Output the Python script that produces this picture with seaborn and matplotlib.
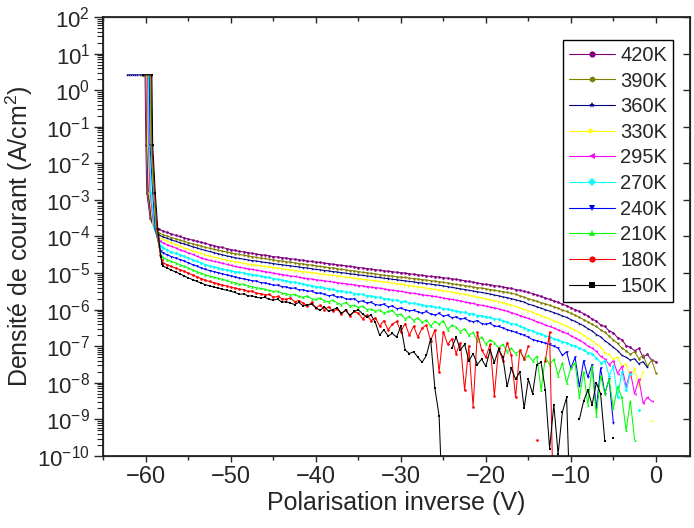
import numpy as np
import pandas as pd
import matplotlib
matplotlib.use("Agg")
import matplotlib.pyplot as plt
import seaborn as sns
from matplotlib.lines import Line2D
from matplotlib.ticker import (LogLocator, LogFormatterMathtext, MultipleLocator,
                               NullFormatter, NullLocator)

nan = np.nan

temps = ["420K", "390K", "360K", "330K", "295K", "270K", "240K", "210K", "180K", "150K"]
colors = ["#800080", "#808000", "#000080", "#FFFF00", "#FF00FF",
          "#00FFFF", "#0000FF", "#00FF00", "#FF0000", "#000000"]
marker_list = ["o", "h", "*", ">", "<", "D", "v", "^", "o", "s"]

# voltage sweep after the breakdown knee (-58 V .. 0 V, 0.5 V step)
sweep_v = np.arange(-58.0, 0.25, 0.5)

# breakdown / compliance part of each sweep (V, log10 J)
pre_v = {
    "420K": [-60.3, -60.1, -60.0, -59.9, -59.5, -59.0, -58.5],
    "390K": [-60.3, -60.0, -59.9, -59.8, -59.4, -58.9, -58.5],
    "360K": [-62.2, -62.0, -61.75, -61.5, -61.25, -61.0, -60.75, -60.5, -60.25,
             -59.95, -59.85, -59.7, -59.3, -58.8, -58.5],
    "330K": [-60.3, -59.9, -59.8, -59.6, -59.2, -58.7, -58.4],
    "295K": [-60.3, -59.8, -59.7, -59.5, -59.1, -58.6, -58.3],
    "270K": [-60.3, -59.7, -59.6, -59.4, -59.0, -58.5, -58.25],
    "240K": [-60.3, -59.6, -59.5, -59.2, -58.9, -58.4, -58.2],
    "210K": [-60.3, -59.5, -59.4, -59.1, -58.8, -58.35, -58.15],
    "180K": [-60.3, -59.4, -59.3, -59.0, -58.7, -58.3, -58.15],
    "150K": [-60.3, -59.3, -59.2, -58.9, -58.6, -58.25, -58.1],
}
pre_logj = {
    "420K": [0.42, 0.42, -1.5, -2.8, -3.5, -3.72, -3.80],
    "390K": [0.42, 0.42, -1.5, -2.8, -3.55, -3.82, -3.90],
    "360K": [0.42, 0.42, 0.42, 0.42, 0.42, 0.42, 0.42, 0.42, 0.42,
             0.42, -1.5, -2.8, -3.6, -3.9, -3.96],
    "330K": [0.42, 0.42, -1.5, -2.8, -3.65, -3.97, -4.04],
    "295K": [0.42, 0.42, -1.5, -2.8, -3.7, -4.05, -4.12],
    "270K": [0.42, 0.42, -1.5, -2.8, -3.75, -4.15, -4.25],
    "240K": [0.42, 0.42, -1.5, -2.8, -3.8, -4.3, -4.4],
    "210K": [0.42, 0.42, -1.5, -2.8, -3.8, -4.4, -4.52],
    "180K": [0.42, 0.42, -1.5, -2.8, -3.8, -4.5, -4.65],
    "150K": [0.42, 0.42, -1.5, -2.8, -3.8, -4.55, -4.75],
}

# log10 of current density on the sweep grid (nan = not plottable)
logj_420 = [-3.85, -3.89, -3.93, -3.97, -4.00, -4.04, -4.07, -4.10, -4.13,
            -4.16, -4.19, -4.22, -4.25, -4.28, -4.30, -4.33, -4.36, -4.38, -4.41,
            -4.42, -4.44, -4.46, -4.48, -4.50, -4.51, -4.53, -4.55, -4.56, -4.58,
            -4.59, -4.61, -4.62, -4.64, -4.65, -4.67, -4.68, -4.70, -4.71, -4.73,
            -4.74, -4.76, -4.77, -4.79, -4.80, -4.82, -4.83, -4.85, -4.86, -4.88,
            -4.89, -4.91, -4.92, -4.94, -4.95, -4.96, -4.98, -4.99, -5.00, -5.02,
            -5.03, -5.05, -5.06, -5.08, -5.09, -5.10, -5.11, -5.13, -5.14, -5.16,
            -5.17, -5.19, -5.21, -5.23, -5.25, -5.27, -5.29, -5.31, -5.32, -5.34,
            -5.36, -5.38, -5.40, -5.42, -5.45, -5.47, -5.50, -5.53, -5.56, -5.60,
            -5.64, -5.68, -5.72, -5.76, -5.80, -5.85, -5.89, -5.95, -6.00, -6.05,
            -6.11, -6.17, -6.26, -6.31, -6.42, -6.46, -6.58, -6.63, -6.77, -6.82,
            -6.98, -7.03, -7.12, -7.06, -7.30, -7.22, -7.38, -7.42]
logj_390 = [-3.95, -3.99, -4.03, -4.06, -4.10, -4.13, -4.17, -4.20, -4.23,
            -4.26, -4.30, -4.32, -4.35, -4.37, -4.40, -4.42, -4.45, -4.47, -4.49,
            -4.51, -4.53, -4.55, -4.57, -4.59, -4.60, -4.62, -4.64, -4.66, -4.67,
            -4.69, -4.70, -4.72, -4.74, -4.75, -4.77, -4.78, -4.80, -4.82, -4.83,
            -4.85, -4.86, -4.88, -4.90, -4.91, -4.93, -4.94, -4.96, -4.98, -4.99,
            -5.01, -5.02, -5.04, -5.06, -5.07, -5.08, -5.10, -5.11, -5.12, -5.14,
            -5.15, -5.16, -5.18, -5.19, -5.21, -5.22, -5.24, -5.25, -5.27, -5.29,
            -5.31, -5.32, -5.34, -5.36, -5.38, -5.40, -5.41, -5.43, -5.45, -5.47,
            -5.49, -5.51, -5.53, -5.55, -5.58, -5.62, -5.66, -5.70, -5.74, -5.77,
            -5.81, -5.84, -5.88, -5.92, -5.96, -6.01, -6.05, -6.10, -6.15, -6.21,
            -6.27, -6.33, -6.40, -6.46, -6.55, -6.62, -6.72, -6.83, -6.92, -7.05,
            -7.12, -7.22, -7.15, -7.34, -7.25, -7.55, -7.38, -7.72]
logj_360 = [-4.01, -4.05, -4.09, -4.13, -4.17, -4.20, -4.24, -4.28, -4.31,
            -4.35, -4.38, -4.41, -4.44, -4.47, -4.50, -4.53, -4.55, -4.58, -4.60,
            -4.62, -4.64, -4.66, -4.67, -4.69, -4.71, -4.72, -4.74, -4.76, -4.77,
            -4.79, -4.80, -4.82, -4.83, -4.85, -4.86, -4.88, -4.90, -4.91, -4.93,
            -4.94, -4.96, -4.97, -4.99, -5.00, -5.02, -5.03, -5.05, -5.06, -5.08,
            -5.09, -5.11, -5.12, -5.14, -5.15, -5.17, -5.18, -5.20, -5.21, -5.23,
            -5.24, -5.26, -5.27, -5.29, -5.30, -5.32, -5.33, -5.35, -5.37, -5.39,
            -5.41, -5.43, -5.45, -5.47, -5.49, -5.51, -5.53, -5.55, -5.57, -5.60,
            -5.62, -5.65, -5.67, -5.70, -5.73, -5.76, -5.79, -5.85, -5.88, -5.92,
            -5.96, -6.00, -6.04, -6.08, -6.12, -6.17, -6.21, -6.27, -6.32, -6.38,
            -6.44, -6.52, -6.58, -6.68, -6.74, -6.85, -6.93, -7.03, -7.12, -7.25,
            -7.30, -7.38, -7.34, -7.48, -7.42, -7.58, nan, nan]
logj_330 = [-4.08, -4.12, -4.17, -4.22, -4.26, -4.31, -4.35, -4.39, -4.43,
            -4.46, -4.50, -4.53, -4.56, -4.59, -4.62, -4.64, -4.67, -4.69, -4.71,
            -4.73, -4.75, -4.77, -4.78, -4.80, -4.82, -4.83, -4.85, -4.86, -4.88,
            -4.90, -4.91, -4.93, -4.94, -4.96, -4.97, -4.99, -5.00, -5.02, -5.03,
            -5.05, -5.06, -5.08, -5.09, -5.11, -5.12, -5.14, -5.15, -5.17, -5.18,
            -5.20, -5.21, -5.23, -5.24, -5.25, -5.27, -5.29, -5.30, -5.32, -5.34,
            -5.36, -5.38, -5.39, -5.41, -5.43, -5.44, -5.46, -5.48, -5.50, -5.52,
            -5.54, -5.56, -5.58, -5.61, -5.63, -5.65, -5.68, -5.70, -5.73, -5.75,
            -5.78, -5.81, -5.84, -5.87, -5.91, -5.95, -5.99, -6.03, -6.07, -6.12,
            -6.16, -6.21, -6.26, -6.30, -6.35, -6.40, -6.45, -6.51, -6.56, -6.62,
            -6.70, -6.78, -6.85, -6.94, -7.02, -7.18, -7.22, -7.35, -7.30, -7.55,
            -7.48, -7.85, -7.60, -8.10, -7.70, nan, -9.05, nan]
logj_295 = [-4.17, -4.22, -4.27, -4.31, -4.36, -4.40, -4.45, -4.49, -4.54,
            -4.58, -4.62, -4.65, -4.68, -4.70, -4.73, -4.76, -4.79, -4.82, -4.84,
            -4.86, -4.88, -4.90, -4.92, -4.94, -4.96, -4.98, -5.00, -5.02, -5.04,
            -5.06, -5.08, -5.09, -5.11, -5.13, -5.15, -5.16, -5.18, -5.20, -5.21,
            -5.23, -5.24, -5.26, -5.28, -5.29, -5.31, -5.32, -5.34, -5.35, -5.37,
            -5.38, -5.40, -5.41, -5.43, -5.45, -5.47, -5.48, -5.50, -5.52, -5.54,
            -5.55, -5.57, -5.59, -5.61, -5.62, -5.64, -5.66, -5.68, -5.70, -5.72,
            -5.74, -5.76, -5.79, -5.81, -5.83, -5.86, -5.88, -5.90, -5.93, -5.95,
            -5.98, -6.01, -6.04, -6.08, -6.12, -6.16, -6.20, -6.24, -6.28, -6.33,
            -6.37, -6.42, -6.46, -6.50, -6.55, -6.60, -6.65, -6.71, -6.77, -6.83,
            -6.90, -7.00, -7.05, -7.14, -7.28, -7.35, -7.50, -7.40, -7.75, -7.55,
            -8.10, -7.70, -8.30, -7.90, -8.55, -8.40, -8.50, nan]
logj_270 = [-4.31, -4.37, -4.42, -4.46, -4.50, -4.54, -4.59, -4.64, -4.68,
            -4.72, -4.77, -4.80, -4.83, -4.86, -4.89, -4.91, -4.93, -4.96, -4.98,
            -5.00, -5.02, -5.04, -5.06, -5.08, -5.10, -5.12, -5.15, -5.17, -5.19,
            -5.21, -5.24, -5.25, -5.28, -5.30, -5.32, -5.34, -5.37, -5.38, -5.41,
            -5.43, -5.44, -5.48, -5.48, -5.52, -5.52, -5.56, -5.57, -5.58, -5.62,
            -5.62, -5.66, -5.66, -5.70, -5.70, -5.74, -5.73, -5.78, -5.77, -5.82,
            -5.82, -5.85, -5.86, -5.90, -5.89, -5.94, -5.94, -5.97, -5.98, -6.02,
            -6.03, -6.06, -6.07, -6.11, -6.11, -6.16, -6.16, -6.20, -6.21, -6.26,
            -6.26, -6.31, -6.33, -6.38, -6.40, -6.46, -6.49, -6.55, -6.58, -6.64,
            -6.66, -6.72, -6.74, -6.80, -6.82, -6.88, -6.90, -6.96, -6.99, -7.05,
            -7.10, -7.18, -7.20, -7.32, -7.45, -7.40, -7.80, -7.55, -8.40, -7.70,
            -8.20, -7.75, nan, -8.75, nan, nan, nan, nan]
logj_240 = [-4.45, -4.50, -4.55, -4.59, -4.63, -4.67, -4.72, -4.77, -4.81,
            -4.86, -4.90, -4.93, -4.96, -4.99, -5.02, -5.05, -5.08, -5.11, -5.14,
            -5.16, -5.18, -5.21, -5.22, -5.26, -5.27, -5.30, -5.33, -5.33, -5.37,
            -5.38, -5.42, -5.41, -5.46, -5.46, -5.50, -5.49, -5.55, -5.55, -5.58,
            -5.62, -5.60, -5.66, -5.65, -5.70, -5.72, -5.70, -5.78, -5.76, -5.82,
            -5.80, -5.86, -5.88, -5.85, -5.92, -5.90, -5.97, -5.96, -6.00, -6.03,
            -6.02, -6.06, -6.10, -6.05, -6.12, -6.15, -6.10, -6.18, -6.15, -6.22,
            -6.20, -6.26, -6.24, -6.30, -6.33, -6.30, -6.38, -6.40, -6.37, -6.45,
            -6.46, -6.50, -6.55, -6.58, -6.62, -6.66, -6.70, -6.75, -6.82, -6.85,
            -6.88, -6.92, -6.95, -7.00, -7.05, -7.25, -7.15, -7.60, -7.30, -8.10,
            -7.40, -7.85, -7.50, -8.70, -7.60, -8.30, -7.90, -9.10, nan, nan,
            nan, nan, nan, nan, nan, nan, nan, nan]
logj_210 = [-4.58, -4.63, -4.68, -4.72, -4.77, -4.81, -4.86, -4.91, -4.96,
            -5.00, -5.05, -5.08, -5.11, -5.14, -5.17, -5.20, -5.24, -5.26, -5.31,
            -5.30, -5.35, -5.37, -5.40, -5.42, -5.44, -5.47, -5.50, -5.49, -5.55,
            -5.56, -5.60, -5.58, -5.64, -5.66, -5.62, -5.70, -5.72, -5.68, -5.76,
            -5.78, -5.74, -5.82, -5.86, -5.80, -5.90, -5.88, -5.94, -5.90, -6.00,
            -5.98, -6.05, -6.00, -6.10, -6.04, -6.02, -6.15, -6.12, -6.25, -6.18,
            -6.30, -6.22, -6.35, -6.28, -6.45, -6.32, -6.40, -6.30, -6.55, -6.42,
            -6.48, -6.60, -6.52, -6.70, -6.62, -6.85, -6.75, -6.95, -6.82, -6.90,
            -7.05, -6.95, -7.15, -7.05, -7.20, -7.12, -7.35, -7.25, -7.40, -7.28,
            -8.20, -7.30, -7.50, -7.35, -7.80, -7.45, -8.00, -7.60, -7.45, -8.40,
            -7.70, -8.60, -7.55, -8.90, -7.80, -8.30, -7.90, -8.70, -8.10, -8.40,
            -9.30, -8.50, -9.55, nan, nan, nan, nan, nan]
logj_180 = [-4.72, -4.77, -4.82, -4.86, -4.91, -4.95, -5.00, -5.05, -5.10,
            -5.15, -5.20, -5.23, -5.26, -5.29, -5.33, -5.35, -5.39, -5.41, -5.44,
            -5.45, -5.50, -5.49, -5.55, -5.56, -5.60, -5.58, -5.66, -5.64, -5.70,
            -5.72, -5.68, -5.78, -5.75, -5.82, -5.90, -5.80, -5.95, -5.88, -6.00,
            -5.92, -6.05, -5.98, -6.12, -6.00, -6.18, -6.05, -6.10, -6.25, -6.15,
            -6.30, -6.22, -6.45, -6.30, -6.55, -6.40, -6.32, -6.60, -6.38, -6.70,
            -6.45, -6.75, -6.50, -6.42, -6.85, -6.55, -7.70, -6.60, -6.95, -6.80,
            -7.20, -6.90, -8.20, -7.00, -8.65, -6.62, -7.10, -7.30, -6.95, -8.35,
            -7.05, -7.40, -6.90, -7.25, -8.40, -7.10, -7.35, -7.00, nan, -9.55,
            nan, -7.40, -6.62, -12.0, nan, nan, nan, nan, nan, nan,
            nan, nan, nan, nan, nan, nan, nan, nan, nan, nan,
            nan, nan, nan, nan, nan, nan, nan, nan]
logj_150 = [-4.81, -4.86, -4.92, -4.97, -5.02, -5.08, -5.13, -5.18, -5.23,
            -5.27, -5.32, -5.35, -5.38, -5.41, -5.44, -5.47, -5.50, -5.53, -5.58,
            -5.57, -5.62, -5.63, -5.66, -5.68, -5.66, -5.72, -5.74, -5.71, -5.80,
            -5.78, -5.82, -5.86, -5.80, -5.90, -5.88, -5.85, -5.95, -6.02, -5.92,
            -6.05, -6.00, -5.95, -6.10, -6.02, -6.15, -6.05, -6.00, -6.12, -6.20,
            -6.15, -6.35, -6.70, -6.55, -6.72, -6.65, -6.75, -6.45, -7.10, -7.20,
            -7.15, -7.30, -7.44, -7.25, -6.80, -8.15, -8.90, -12.0, nan, -7.05,
            -6.75, -7.10, -6.95, -7.40, -7.20, -7.50, -7.35, -7.55, -7.10, -7.45,
            -7.08, -7.30, -8.10, -7.60, -7.90, -7.70, -8.70, -7.90, -8.30, -7.50,
            -7.44, -8.20, -9.80, -8.60, -9.95, -8.80, -8.40, -12.0, nan, -9.00,
            -8.50, -8.20, -8.60, -8.00, -8.30, -9.60, nan, -9.50, nan, nan,
            nan, nan, nan, nan, nan, nan, nan, nan]

logj = {"420K": logj_420, "390K": logj_390, "360K": logj_360, "330K": logj_330,
        "295K": logj_295, "270K": logj_270, "240K": logj_240, "210K": logj_210,
        "180K": logj_180, "150K": logj_150}

frames = []
for t in temps:
    v = np.concatenate([pre_v[t], sweep_v])
    lj = np.concatenate([pre_logj[t], logj[t]])
    # split the trace where points are missing so gaps stay open
    seg = np.cumsum(np.isnan(lj))
    d = pd.DataFrame({"V": v, "J": 10.0 ** lj, "T": t, "seg": seg})
    frames.append(d.dropna())
df = pd.concat(frames, ignore_index=True)

sns.set_style("ticks")
plt.rcParams["font.family"] = ["Liberation Sans", "DejaVu Sans"]
plt.rcParams["mathtext.default"] = "regular"

fig = plt.figure(figsize=(6.94, 5.28), dpi=100)
ax = fig.add_axes([0.149, 0.1364, 0.845, 0.8314])

palette = dict(zip(temps, colors))
mk = dict(zip(temps, marker_list))

sns.lineplot(data=df, x="V", y="J", hue="T", style="T", units="seg",
             estimator=None, sort=False, hue_order=temps, style_order=temps,
             palette=palette, markers=mk, dashes=False, lw=0.75, ms=1.9, mew=0,
             legend=False, ax=ax)

ax.set_yscale("log")
ax.set_xlim(-65, 4)
ax.set_ylim(1e-10, 1e2)

ax.xaxis.set_major_locator(MultipleLocator(10))
ax.xaxis.set_minor_locator(MultipleLocator(5))
ax.yaxis.set_major_locator(LogLocator(base=10, numticks=20))
ax.yaxis.set_minor_locator(LogLocator(base=10, subs=np.arange(2, 10), numticks=20))
ax.yaxis.set_major_formatter(LogFormatterMathtext())
ax.yaxis.set_minor_formatter(NullFormatter())

ax.tick_params(axis="x", which="major", direction="out", length=4.5, width=1.0,
               labelsize=17, pad=3)
ax.tick_params(axis="x", which="minor", direction="out", length=3.2, width=1.0)
ax.tick_params(axis="y", which="major", direction="out", length=6.5, width=1.0,
               labelsize=16, pad=3)
ax.tick_params(axis="y", which="minor", direction="out", length=4, width=0.8)

for s in ax.spines.values():
    s.set_linewidth(1.1)
    s.set_color("black")

ax.set_xlabel("Polarisation inverse (V)", fontsize=18, labelpad=2)
ax.set_ylabel("Densité de courant (A/cm$^2$)", fontsize=18, labelpad=2)

# mirrored axes: ticks pointing inward on top and right
ax_top = ax.twiny()
ax_top.set_xlim(ax.get_xlim())
ax_top.xaxis.set_major_locator(MultipleLocator(10))
ax_top.xaxis.set_minor_locator(MultipleLocator(5))
ax_top.tick_params(axis="x", which="major", direction="in", length=4.5, width=1.0,
                   labeltop=False)
ax_top.tick_params(axis="x", which="minor", direction="in", length=3.2, width=1.0)

ax_right = ax.twinx()
ax_right.set_yscale("log")
ax_right.set_ylim(ax.get_ylim())
ax_right.yaxis.set_major_locator(LogLocator(base=10, numticks=20))
ax_right.yaxis.set_minor_locator(NullLocator())
ax_right.tick_params(axis="y", which="major", direction="in", length=5, width=1.0,
                     labelright=False)

handles = [Line2D([], [], color=c, marker=m, lw=0.8, ms=4.5, mew=0)
           for c, m in zip(colors, marker_list)]
leg = ax.legend(handles, temps, loc="upper left", bbox_to_anchor=(0.7835, 0.948),
                fontsize=14.5, frameon=True, fancybox=False, framealpha=1,
                edgecolor="black", handlelength=2.3, handletextpad=0.25,
                borderpad=0.3, labelspacing=0.33, borderaxespad=0, numpoints=1)
leg.get_frame().set_linewidth(1.0)
leg.set_zorder(5)

fig.savefig("out.png", dpi=100)
